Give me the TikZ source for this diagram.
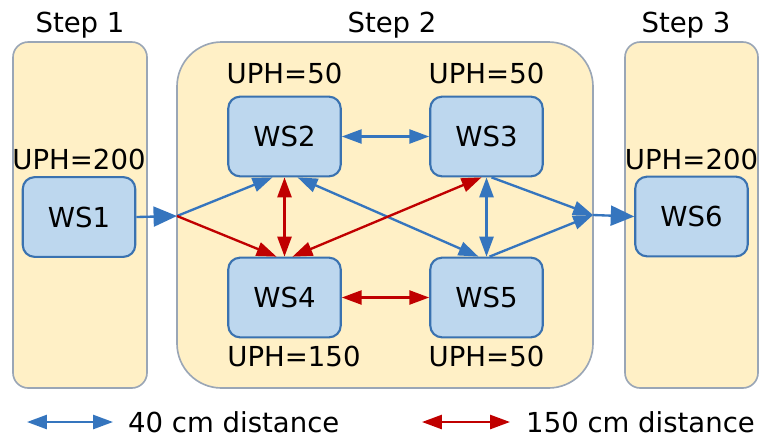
\documentclass[tikz,border=0pt]{standalone}
\usepackage{fontspec}
\setmainfont{DejaVu Sans}
\usetikzlibrary{arrows.meta,positioning,calc}
\definecolor{panelfill}{HTML}{FFF0C6}
\definecolor{panelline}{HTML}{9AA6B6}
\definecolor{wsfill}{HTML}{BDD7EE}
\definecolor{wsline}{HTML}{3A72B0}
\definecolor{bluelink}{HTML}{3575BE}
\definecolor{redlink}{HTML}{C00000}
\tikzset{
  panel/.style={fill=panelfill, draw=panelline, line width=1.4pt, rounded corners=13pt},
  wsbox/.style={draw=wsline, fill=wsfill, line width=1.8pt, rounded corners=10pt,
    minimum width=96pt, minimum height=68pt, inner sep=0pt},
  uph/.style={inner sep=0pt},
  bluelnk/.style={draw=bluelink, line width=2pt, >={Triangle[length=17pt,width=12pt]}},
  redlnk/.style={draw=redlink, line width=2pt, >={Triangle[length=17pt,width=12pt]}},
  bigtip/.style={-{Triangle[length=20pt,width=17pt]}},
}
\begin{document}
\begin{tikzpicture}[x=0.03cm, y=-0.03cm, font=\fontsize{23.5}{28}\selectfont]
  \useasboundingbox (0,0) rectangle (763,437);

  % Step panels
  \draw[panel] (13,42) rectangle (147,388);
  \draw[panel, rounded corners=38pt] (177,42) rectangle (593,388);
  \draw[panel] (625,42) rectangle (758,388);

  \node[anchor=base] (step1) at (80,32) {Step 1};
  \node[anchor=base] (step2) at (392,32) {Step 2};
  \node[anchor=base] (step3) at (686,32) {Step 3};

  % Work stations
  \foreach \name/\x/\y in {WS1/79/217, WS2/284.5/136.5, WS3/486.5/136.5,
                           WS4/284.5/297.5, WS5/486.5/297.5, WS6/691.5/216.5} {
    \node[wsbox] (\name) at (\x,\y) {\name};
  }

  % UPH labels
  \node[uph, above=5pt of WS1] (uph1) {UPH=200};
  \node[uph, above=10pt of WS2] (uph2) {UPH=50};
  \node[uph, above=10pt of WS3] (uph3) {UPH=50};
  \node[uph, below=6pt of WS4.south west, anchor=north west] (uph4) {UPH=150};
  \node[uph, below=6pt of WS5] (uph5) {UPH=50};
  \node[uph, above=5pt of WS6] (uph6) {UPH=200};

  % Entry and exit points of step 2
  \coordinate (inL) at (177,216);
  \coordinate (outR) at (593,215);

  % Connectors
  \draw[bluelnk, bigtip] (WS1.east) -- (inL);
  \draw[bluelnk, ->] (inL) -- ($(WS2.south)+(-12,0)$);
  \draw[redlnk, ->] (inL) -- ($(WS4.north)+(-8,0)$);
  \draw[redlnk, <->] (WS2.south) -- (WS4.north);
  \draw[bluelnk, <->] ($(WS2.south)+(13,0)$) -- ($(WS5.north)+(-8,0)$);
  \draw[redlnk, <->] ($(WS4.north)+(8,0)$) -- ($(WS3.south)+(-5,0)$);
  \draw[bluelnk, <->] (WS3.south) -- (WS5.north);
  \draw[bluelnk, ->] ($(WS3.south)+(5,0)$) -- (outR);
  \draw[bluelnk, ->] ($(WS5.north)+(3,0)$) -- (outR);
  \draw[bluelnk, bigtip] (outR) -- (WS6.west);
  \draw[bluelnk, <->] (WS2.east) -- (WS3.west);
  \draw[redlnk, <->] (WS4.east) -- (WS5.west);

  % Legend
  \coordinate (lgBa) at (27,422);
  \coordinate (lgBb) at (113,422);
  \coordinate (lgRa) at (422,422);
  \coordinate (lgRb) at (510,422);
  \draw[bluelnk, <->] (lgBa) -- (lgBb);
  \draw[redlnk, <->] (lgRa) -- (lgRb);
  \node[anchor=base west, inner sep=0pt] (lgBtext) at (128,432) {40 cm distance};
  \node[anchor=base west, inner sep=0pt] (lgRtext) at (526,432) {150 cm distance};
\end{tikzpicture}
\end{document}
